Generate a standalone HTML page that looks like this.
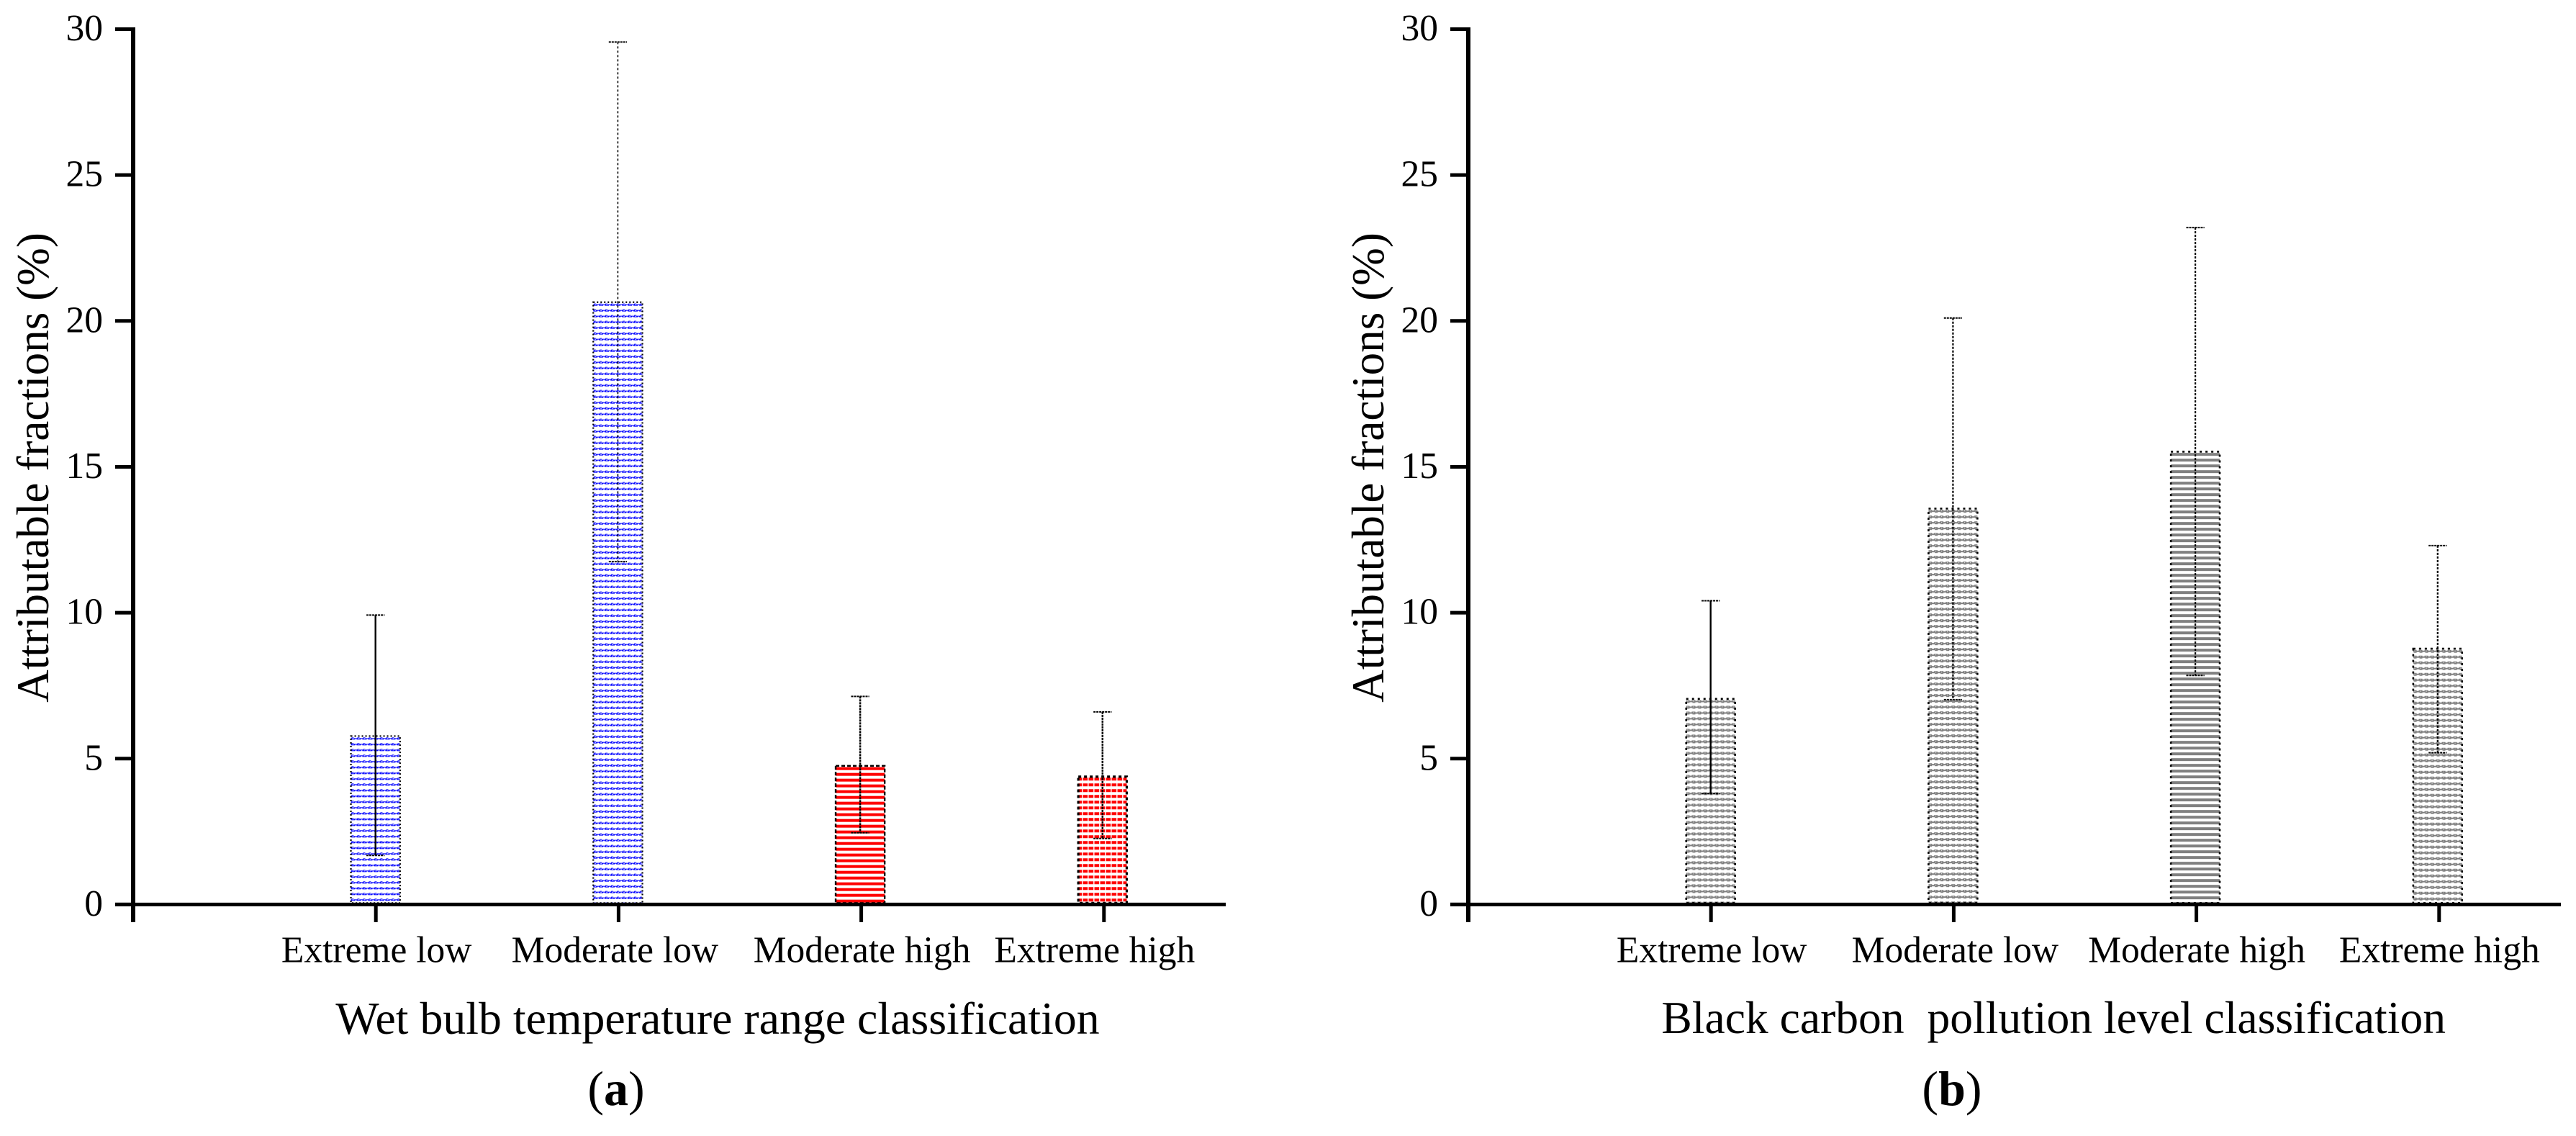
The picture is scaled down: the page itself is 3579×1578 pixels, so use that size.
<!DOCTYPE html>
<html lang="en">
<head>
<meta charset="utf-8">
<title>Attributable fractions by wet bulb temperature and black carbon level</title>
<style>
html,body{margin:0;padding:0;background:#fff;width:3579px;height:1578px;overflow:hidden}
svg{display:block}
text{font-family:"Liberation Serif",serif;fill:#000;white-space:pre}
</style>
</head>
<body>
<svg id="chart" xmlns="http://www.w3.org/2000/svg" width="3579" height="1578" viewBox="0 0 3579 1578">
  <rect width="3579" height="1578" fill="#fff"/>
  <defs id="defs"></defs>
  <g id="panel-a">
    <text transform="translate(67,649.5) rotate(-90)" text-anchor="middle" font-size="63.2">Attributable fractions (%)</text>
    <text x="997" y="1436" text-anchor="middle" font-size="63.8">Wet bulb temperature range classification</text>
    <text x="856" y="1535" text-anchor="middle" font-size="68">(<tspan font-weight="bold">a</tspan>)</text>
  </g>
  <g id="panel-b">
    <text transform="translate(1922,649.5) rotate(-90)" text-anchor="middle" font-size="63.2">Attributable fractions (%)</text>
    <text x="3398" y="1435" text-anchor="end" font-size="63.6">Black carbon  pollution level classification</text>
    <text x="2712" y="1535" text-anchor="middle" font-size="68">(<tspan font-weight="bold">b</tspan>)</text>
  </g>
</svg>
<script>
const categories = ['Extreme low', 'Moderate low', 'Moderate high', 'Extreme high'];
const yTickValues = [0, 5, 10, 15, 20, 25, 30];
const wetBulbFractions = [5.8, 20.67, 4.78, 4.42];
const wetBulbLower = [1.68, 11.75, 2.46, 2.26];
const wetBulbUpper = [9.92, 29.56, 7.13, 6.6];
const blackCarbonFractions = [7.08, 13.6, 15.55, 8.8];
const blackCarbonLower = [3.8, 7.02, 7.85, 5.2];
const blackCarbonUpper = [10.41, 20.1, 23.2, 12.3];

const SVGNS = 'http://www.w3.org/2000/svg';
const defs = document.getElementById('defs');
const ZERO_Y = 1256.4;
const UNIT_Y = 40.53;
const TICK_STEP = 337.2;
const BAR_STEP = 336.7;
const BAR_W = 70.5;
const CAP_HALF = 12.6;
const AXIS_LEN = 1518;

function yScale(v) { return ZERO_Y - v * UNIT_Y; }
function tickX(left, i) { return left + TICK_STEP * (i + 1); }
function barX(left, i) { return left + BAR_STEP * (i + 1); }

function make(tag, attrs, parent) {
  const el = document.createElementNS(SVGNS, tag);
  for (const k in attrs) el.setAttribute(k, attrs[k]);
  parent.appendChild(el);
  return el;
}

// band drawings inside one 8x8 hatch cell
function drawHatch(pattern, color, kind) {
  if (kind === 'solid') {
    make('rect', {x: 0, y: 3, width: 8, height: 4, fill: color}, pattern);
  } else if (kind === 'brick') {
    make('rect', {x: 0, y: 3, width: 6.6, height: 4, fill: color}, pattern);
  } else if (kind === 'light') {
    make('rect', {x: 2, y: 3, width: 3, height: 1, fill: color}, pattern);
    make('rect', {x: 0, y: 4, width: 3, height: 1, fill: color}, pattern);
    make('rect', {x: 5, y: 4, width: 3, height: 1, fill: color}, pattern);
    make('rect', {x: 1, y: 5, width: 6, height: 1, fill: color}, pattern);
  } else {
    make('rect', {x: 1, y: 3, width: 5, height: 1, fill: color}, pattern);
    make('rect', {x: 0, y: 4, width: 3, height: 1, fill: color}, pattern);
    make('rect', {x: 4, y: 4, width: 4, height: 1, fill: color}, pattern);
    make('rect', {x: 0, y: 5, width: 8, height: 1, fill: color}, pattern);
    make('rect', {x: 2, y: 6, width: 4, height: 1, fill: color}, pattern);
  }
}

function drawPanel(root, panelKey, left, values, lower, upper, barStyles, labelShift) {
  // bars
  values.forEach(function (v, i) {
    const s = barStyles[i];
    const top = yScale(v);
    const cx = barX(left, i);
    const pid = 'hatch-' + panelKey + '-' + i;
    const pattern = make('pattern', {id: pid, patternUnits: 'userSpaceOnUse', width: 8, height: 8,
      patternTransform: 'translate(' + (cx - BAR_W / 2) + ',' + top + ')'}, defs);
    drawHatch(pattern, s.color, s.kind);
    const bar = make('rect', {x: cx - BAR_W / 2 + s.sw / 2, y: top + s.sw / 2, width: BAR_W - s.sw,
      height: ZERO_Y - top - s.sw / 2 - 2, fill: 'url(#' + pid + ')', stroke: '#000', 'stroke-width': s.sw,
      'stroke-dasharray': s.dash}, root);
    
    
  });

  // error bars
  values.forEach(function (v, i) {
    const s = barStyles[i];
    const cx = barX(left, i);
    const stem = make('line', {x1: cx, x2: cx, y1: yScale(upper[i]), y2: yScale(lower[i]), stroke: '#000',
      'stroke-width': s.errW, 'stroke-dasharray': s.errDash}, root);
    
    
    const capTop = make('line', {x1: cx - CAP_HALF, x2: cx + CAP_HALF, y1: yScale(upper[i]), y2: yScale(upper[i]),
      stroke: '#000', 'stroke-width': 2, 'stroke-dasharray': '3 1'}, root);
    
    
    const capLow = make('line', {x1: cx - CAP_HALF, x2: cx + CAP_HALF, y1: yScale(lower[i]), y2: yScale(lower[i]),
      stroke: '#000', 'stroke-width': 2, 'stroke-dasharray': '3 1'}, root);
    
    
  });

  // y axis
  const yAxis = make('line', {x1: left, x2: left, y1: yScale(30) - 2.5, y2: ZERO_Y + 24.5, stroke: '#000', 'stroke-width': 6}, root);
  
  
  yTickValues.forEach(function (t) {
    const tick = make('line', {x1: left - 25, x2: left, y1: yScale(t), y2: yScale(t), stroke: '#000', 'stroke-width': 5}, root);
    
    
    const label = make('text', {x: left - 42, y: yScale(t) + 15.5, 'text-anchor': 'end', 'font-size': 51.5}, root);
    label.textContent = String(t);
    
    
  });

  // x axis
  const xAxis = make('line', {x1: left - 25, x2: left + AXIS_LEN, y1: ZERO_Y, y2: ZERO_Y, stroke: '#000', 'stroke-width': 5}, root);
  
  
  categories.forEach(function (c, i) {
    const tick = make('line', {x1: tickX(left, i), x2: tickX(left, i), y1: ZERO_Y, y2: ZERO_Y + 24.5, stroke: '#000', 'stroke-width': 5}, root);
    
    
    const label = make('text', {x: tickX(left, i) + labelShift[i], y: 1336.5, 'text-anchor': 'middle', 'font-size': 51.5}, root);
    label.textContent = c;
    
    
  });
}

const blueStyle = {color: '#0000ff', kind: 'light', sw: 2.2, dash: '2 3', errW: 1.6, errDash: '3 3'};
const redStyleA = {color: '#ff0000', kind: 'solid', sw: 2.4, dash: '5 3', errW: 2.5, errDash: '3 1'};
const redStyleB = {color: '#ff0000', kind: 'brick', sw: 3.2, dash: '4 4', errW: 2.5, errDash: '3 1'};
const grayStyle = {color: '#808080', kind: 'dither', sw: 2.6, dash: '3 5', errW: 2.2, errDash: '3 2'};
const graySolid = {color: '#808080', kind: 'solid', sw: 2.6, dash: '3 5', errW: 2.2, errDash: '3 2'};

drawPanel(document.getElementById('panel-a'), 'a', 185, wetBulbFractions, wetBulbLower, wetBulbUpper,
  [
    Object.assign({}, blueStyle, {errW: 2.4, errDash: 'none'}),
    blueStyle,
    redStyleA,
    redStyleB
  ],
  [1, -5, 1, -13]);

drawPanel(document.getElementById('panel-b'), 'b', 2040, blackCarbonFractions, blackCarbonLower, blackCarbonUpper,
  [
    Object.assign({}, grayStyle, {errW: 2.4, errDash: 'none'}),
    grayStyle,
    graySolid,
    grayStyle
  ],
  [1, 2, 0.5, 0.5]);
</script>
</body>
</html>
